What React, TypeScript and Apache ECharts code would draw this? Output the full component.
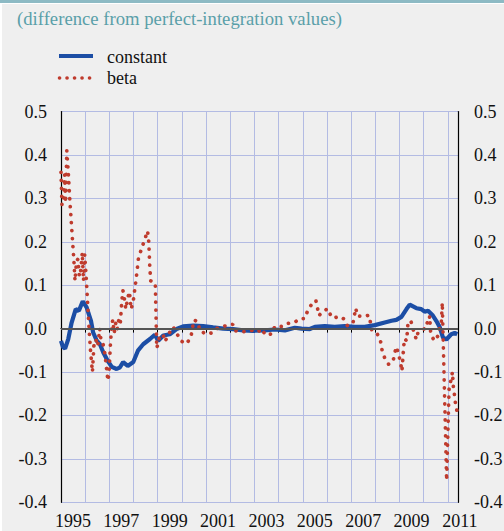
import React, { useEffect, useRef } from 'react';
import * as echarts from 'echarts';

const TITLE = '(difference from perfect-integration values)';
const SERIES_NAMES = ['constant', 'beta'];

const constYears = [
  1995.0, 1995.08, 1995.17, 1995.3, 1995.44, 1995.61, 1995.74, 1995.9, 1996.06, 1996.24,
  1996.33, 1996.48, 1996.61, 1996.75, 1996.93, 1997.1, 1997.3, 1997.44, 1997.57, 1997.76,
  1997.99, 1998.19, 1998.4, 1998.68, 1998.88, 1999.02, 1999.23, 1999.5, 1999.78, 2000.05,
  2000.47, 2000.88, 2001.29, 2001.71, 2002.12, 2002.53, 2002.95, 2003.43, 2003.84, 2004.26,
  2004.67, 2004.95, 2005.29, 2005.5, 2005.91, 2006.32, 2006.74, 2007.15, 2007.56, 2007.98,
  2008.39, 2008.67, 2008.87, 2009.08, 2009.29, 2009.42, 2009.56, 2009.7, 2009.9, 2010.04,
  2010.18, 2010.38, 2010.52, 2010.66, 2010.8, 2010.94, 2011.14, 2011.28, 2011.39,
];
const constValues = [
  -0.028, -0.042, -0.046, -0.024, 0.014, 0.045, 0.041, 0.063, 0.049, 0.018,
  -0.009, -0.028, -0.036, -0.055, -0.074, -0.088, -0.093, -0.089, -0.077, -0.086,
  -0.077, -0.05, -0.036, -0.024, -0.014, -0.028, -0.016, -0.013, -0.001, 0.005,
  0.007, 0.006, 0.003, 0.0, -0.001, -0.004, -0.005, -0.004, -0.002, -0.004,
  0.002, 0.0, -0.001, 0.004, 0.006, 0.004, 0.006, 0.004, 0.004, 0.008,
  0.014, 0.018, 0.02, 0.027, 0.045, 0.055, 0.051, 0.047, 0.045, 0.039,
  0.041, 0.03, 0.018, 0.004, -0.021, -0.025, -0.013, -0.01, -0.013,
];

const betaYears = [
  1995.0, 1995.04, 1995.1, 1995.15, 1995.19, 1995.24, 1995.3, 1995.36, 1995.42, 1995.48,
  1995.53, 1995.58, 1995.64, 1995.7, 1995.76, 1995.82, 1995.88, 1995.93, 1995.98, 1996.04,
  1996.1, 1996.16, 1996.22, 1996.3, 1996.36, 1996.44, 1996.52, 1996.6, 1996.66, 1996.74,
  1996.82, 1996.88, 1996.94, 1996.99, 1997.04, 1997.09, 1997.14, 1997.2, 1997.27, 1997.33,
  1997.39, 1997.45, 1997.51, 1997.56, 1997.62, 1997.68, 1997.76, 1997.83, 1997.9, 1997.98,
  1998.05, 1998.12, 1998.2, 1998.28, 1998.36, 1998.44, 1998.52, 1998.58, 1998.63, 1998.67,
  1998.71, 1998.8, 1998.9, 1998.96, 1999.02, 1999.09, 1999.23, 1999.3, 1999.48, 1999.64,
  1999.78, 1999.95, 2000.19, 2000.37, 2000.5, 2000.67, 2000.74, 2001.02, 2001.23, 2001.43,
  2001.78, 2002.1, 2002.19, 2002.6, 2002.88, 2003.15, 2003.29, 2003.46, 2003.73, 2003.84,
  2004.14, 2004.37, 2004.64, 2004.9, 2005.08, 2005.18, 2005.29, 2005.43, 2005.54, 2005.61,
  2005.67, 2005.77, 2006.02, 2006.16, 2006.25, 2006.53, 2006.71, 2006.85, 2007.08, 2007.19,
  2007.26, 2007.56, 2007.73, 2007.8, 2007.86, 2008.09, 2008.22, 2008.28, 2008.39, 2008.55,
  2008.73, 2008.8, 2008.87, 2008.97, 2009.05, 2009.1, 2009.15, 2009.17, 2009.21, 2009.29,
  2009.33, 2009.35, 2009.46, 2009.52, 2009.6, 2009.7, 2009.76, 2010.04, 2010.11, 2010.21,
  2010.25, 2010.29, 2010.43, 2010.59, 2010.66, 2010.73, 2010.77, 2010.95, 2011.05, 2011.12,
  2011.19, 2011.23, 2011.28, 2011.32, 2011.39,
];
const betaValues = [
  0.36, 0.285, 0.29, 0.355, 0.29, 0.41, 0.36, 0.3, 0.25, 0.2,
  0.16, 0.11, 0.155, 0.16, 0.12, 0.135, 0.175, 0.11, 0.17, 0.12,
  0.06, 0.0, -0.05, -0.1, -0.04, -0.025, -0.04, 0.0, -0.03, -0.035,
  -0.06, -0.09, -0.12, -0.1, -0.04, 0.0, 0.02, -0.01, 0.015, 0.0,
  0.02, 0.01, 0.06, 0.088, 0.07, 0.045, 0.07, 0.085, 0.045, 0.06,
  0.09, 0.12, 0.16, 0.175, 0.19, 0.2, 0.215, 0.225, 0.2, 0.145,
  0.11, 0.108, 0.105, -0.045, -0.033, -0.015, -0.015, -0.03, -0.01, 0.004,
  -0.01, -0.028, -0.035, -0.02, 0.02, 0.015, -0.005, -0.013, -0.01, 0.0,
  0.006, 0.01, -0.005, -0.007, -0.004, -0.008, 0.0, -0.015, -0.012, 0.005,
  0.005, 0.012, 0.014, 0.023, 0.023, 0.038, 0.05, 0.06, 0.065, 0.047,
  0.03, 0.036, 0.046, 0.03, 0.024, 0.028, 0.022, 0.006, 0.014, 0.047,
  0.029, 0.028, 0.031, 0.014, -0.005, -0.013, -0.03, -0.05, -0.068, -0.082,
  -0.076, -0.057, -0.042, -0.06, -0.08, -0.098, -0.06, -0.043, -0.023, -0.028,
  -0.005, 0.014, 0.018, 0.01, -0.01, -0.025, -0.01, 0.0, 0.014, 0.012,
  0.029, -0.01, -0.028, -0.017, 0.002, 0.014, 0.06, -0.35, -0.14, -0.12,
  -0.1, -0.135, -0.155, -0.175, -0.193,
];

const FONT = "'Liberation Serif', 'Times New Roman', serif";
const BLUE = '#1c4ea5';
const RED = '#bf3b2d';
const DOTS = [0.1, 7.9];

export default function App() {
  const ref = useRef<HTMLDivElement>(null);
  useEffect(() => {
    document.body.style.margin = '0';
    if (!ref.current) return;
    const chart = echarts.init(ref.current, undefined, { renderer: 'svg' });
    const constData = constYears.map((y, i) => [y, constValues[i]]);
    const betaData = betaYears.map((y, i) => [y, betaValues[i]]);
    const yLabel = {
      fontSize: 18,
      fontFamily: FONT,
      color: '#111',
      formatter: (v: number) => v.toFixed(1),
    };
    chart.setOption({
      animation: false,
      backgroundColor: '#efefef',
      title: {
        text: TITLE,
        left: 15,
        top: 5,
        padding: 0,
        textStyle: { color: '#5a9fa9', fontSize: 18.7, fontWeight: 'normal', fontFamily: FONT },
      },
      graphic: [
        {
          type: 'line',
          shape: { x1: 57, y1: 52, x2: 91, y2: 52 },
          style: { stroke: BLUE, lineWidth: 4 },
          silent: true,
        },
        {
          type: 'text',
          x: 105,
          y: 53,
          style: { text: SERIES_NAMES[0], font: `18px ${FONT}`, fill: '#111', verticalAlign: 'middle' },
          silent: true,
        },
        {
          type: 'line',
          shape: { x1: 57.5, y1: 74, x2: 91, y2: 74 },
          style: { stroke: RED, lineWidth: 3.6, lineDash: [0.1, 7.4], lineCap: 'round' },
          silent: true,
        },
        {
          type: 'text',
          x: 105,
          y: 74,
          style: { text: SERIES_NAMES[1], font: `18px ${FONT}`, fill: '#111', verticalAlign: 'middle' },
          silent: true,
        },
      ],
      grid: { left: 59, right: 46, top: 107.5, bottom: 28.7, containLabel: false, outerBoundsMode: 'none' },
      xAxis: {
        type: 'value',
        min: 1995,
        max: 2011.42,
        interval: 1,
        offset: 3,
        axisLine: { show: true, lineStyle: { color: '#000', width: 1.2 } },
        axisTick: { show: true, length: 4, lineStyle: { color: '#000', width: 1 } },
        splitLine: { show: true, lineStyle: { color: '#b3bbe3', width: 1 } },
        axisLabel: {
          fontSize: 18,
          fontFamily: FONT,
          color: '#111',
          margin: 7,
          lineHeight: 18,
          padding: [0, 0, 0, 24],
          showMaxLabel: false,
          formatter: (v: number) => {
            const r = Math.round(v);
            if (Math.abs(v - r) > 0.001) return '';
            return r % 2 === 1 ? String(r) : '';
          },
        },
      },
      yAxis: [
        {
          type: 'value',
          position: 'left',
          min: -0.4,
          max: 0.5,
          interval: 0.1,
          axisLine: { show: true, lineStyle: { color: '#000', width: 1.2 } },
          axisTick: { show: false },
          splitLine: { show: true, lineStyle: { color: '#b3bbe3', width: 1 } },
          axisLabel: { ...yLabel, margin: 14 },
        },
        {
          type: 'value',
          position: 'right',
          min: -0.4,
          max: 0.5,
          interval: 0.1,
          axisLine: { show: true, lineStyle: { color: '#000', width: 1.2 } },
          axisTick: { show: false },
          splitLine: { show: false },
          axisLabel: { ...yLabel, margin: 16 },
        },
      ],
      series: [
        {
          name: 'zero',
          type: 'line',
          data: [],
          z: 2,
          silent: true,
          markLine: {
            silent: true,
            symbol: 'none',
            label: { show: false },
            lineStyle: { color: '#555', width: 2, type: 'solid' },
            data: [{ yAxis: 0 }],
          },
        },
        {
          name: SERIES_NAMES[0],
          type: 'line',
          data: constData,
          symbol: 'none',
          z: 3,
          lineStyle: { color: BLUE, width: 4.2 },
          itemStyle: { color: BLUE },
        },
        {
          name: SERIES_NAMES[1],
          type: 'line',
          data: betaData,
          symbol: 'none',
          z: 4,
          lineStyle: { color: RED, width: 3.7, type: DOTS, cap: 'round' },
          itemStyle: { color: RED },
        },
      ],
    });
    return () => chart.dispose();
  }, []);
  return (
    <div style={{ position: 'relative', width: 504, height: 531, background: '#fff', overflow: 'hidden' }}>
      <div style={{ position: 'absolute', left: 0, top: 0, width: 504, height: 3, background: '#8dbac4' }} />
      <div ref={ref} style={{ position: 'absolute', left: 2, top: 4, width: 502, height: 527 }} />
    </div>
  );
}
